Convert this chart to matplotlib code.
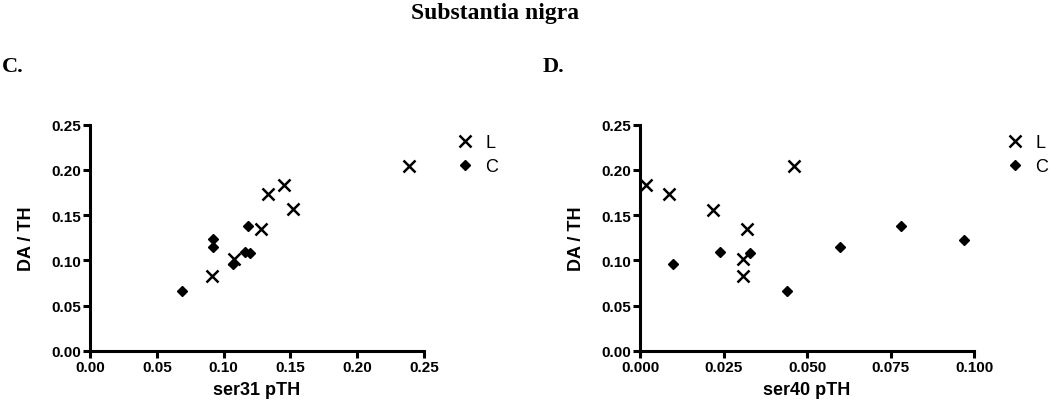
import numpy as np
import matplotlib
matplotlib.use("Agg")
import matplotlib.pyplot as plt
from matplotlib.ticker import FormatStrFormatter

# DA / TH values (same samples in both panels)
L_da = [0.083, 0.101, 0.135, 0.173, 0.183, 0.157, 0.204]
L_ser31 = [0.091, 0.108, 0.128, 0.133, 0.145, 0.152, 0.239]
C_da = [0.066, 0.124, 0.115, 0.096, 0.138, 0.109, 0.108]
C_ser31 = [0.069, 0.092, 0.092, 0.107, 0.118, 0.116, 0.120]

L_da_d = [0.183, 0.173, 0.156, 0.135, 0.101, 0.083, 0.204]
L_ser40 = [0.0018, 0.0088, 0.0218, 0.0319, 0.0307, 0.0307, 0.046]
C_da_d = [0.096, 0.109, 0.108, 0.066, 0.115, 0.138, 0.123]
C_ser40 = [0.010, 0.024, 0.033, 0.044, 0.060, 0.078, 0.097]

panels = [
    ("C.", "ser31 pTH", L_ser31, L_da, C_ser31, C_da, 0.25, 0.05, "%.2f"),
    ("D.", "ser40 pTH", L_ser40, L_da_d, C_ser40, C_da_d, 0.100, 0.025, "%.3f"),
]

plt.rcParams['font.family'] = ['Liberation Sans', 'DejaVu Sans']

fig = plt.figure(figsize=(10.5, 4.06), dpi=100)
fig.text(495 / 1050, 1 - 13 / 406, "Substantia nigra", ha='center', va='center',
         family='Liberation Serif', fontweight='bold', fontsize=17)

lefts = [90 / 1050, 640 / 1050]
letter_x = [2 / 1050, 543 / 1050]
for (letter, xlabel, lx, ly, cx, cy, xmax, xstep, fmt), x0, lx0 in zip(panels, lefts, letter_x):
    ax = fig.add_axes([x0, 1 - 351.7 / 406, 334 / 1050, 226 / 406])
    ax.plot(lx, ly, linestyle='none', marker='x', color='black', ms=8, mew=1.8,
            label='L', clip_on=False)
    ax.plot(cx, cy, linestyle='none', marker='D', color='black', ms=5.5,
            label='C', clip_on=False)
    ax.set_xlim(0, xmax)
    ax.set_ylim(0, 0.25)
    ax.set_xticks(np.arange(0, xmax + xstep / 2, xstep))
    ax.set_yticks(np.arange(0, 0.2501, 0.05))
    ax.xaxis.set_major_formatter(FormatStrFormatter(fmt))
    ax.yaxis.set_major_formatter(FormatStrFormatter("%.2f"))
    for s in ['top', 'right']:
        ax.spines[s].set_visible(False)
    for s in ['left', 'bottom']:
        ax.spines[s].set_linewidth(2.2)
    ax.tick_params(direction='out', length=5, width=2.2, labelsize=11, pad=1.5)
    for t in ax.get_xticklabels() + ax.get_yticklabels():
        t.set_fontweight('bold')
    ax.set_xlabel(xlabel, fontsize=13, fontweight='bold', labelpad=5)
    ax.set_ylabel("DA / TH", fontsize=13, fontweight='bold', labelpad=12)
    ax.legend(loc='upper left', bbox_to_anchor=(1.07, 0.99), frameon=False,
              fontsize=13, handletextpad=0.5, labelspacing=0.4, handlelength=1.2,
              borderaxespad=0)
    fig.text(lx0, 1 - 67 / 406, letter, ha='left', va='center',
             family='Liberation Serif', fontweight='bold', fontsize=16)

fig.savefig("out.png", dpi=100)
